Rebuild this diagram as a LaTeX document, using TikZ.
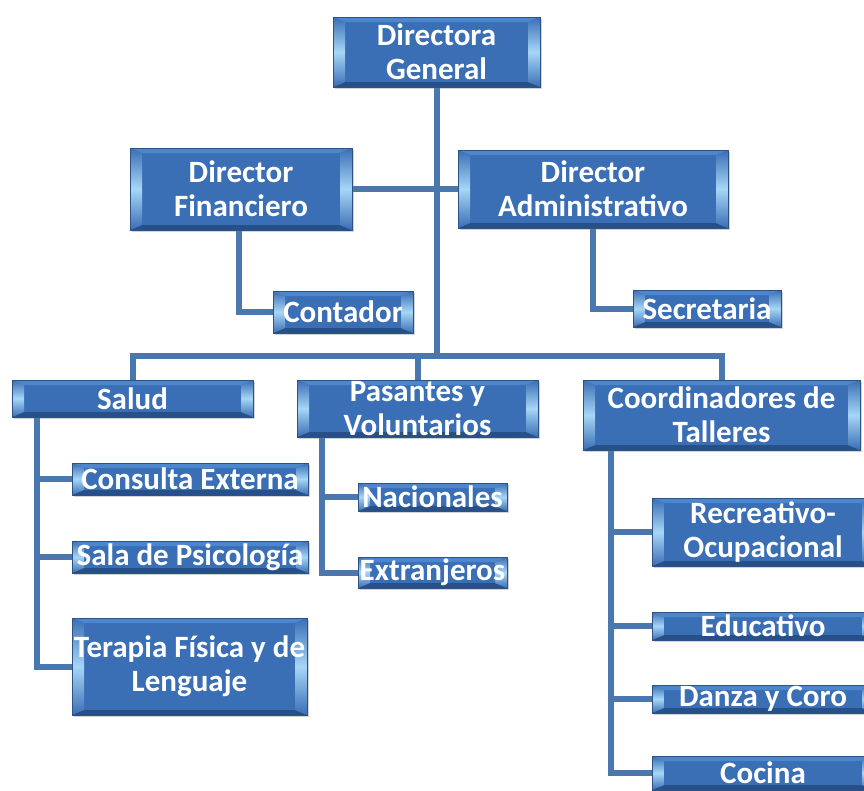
\documentclass[tikz,border=0pt]{standalone}
\usepackage{fontspec}
\setmainfont{Carlito}
\usetikzlibrary{backgrounds,shadows}
\definecolor{boxfill}{HTML}{3A6EB5}
\definecolor{boxedge}{HTML}{2D5283}
\definecolor{facetop}{HTML}{4C86CC}
\definecolor{facebot}{HTML}{285088}
\definecolor{hilite}{HTML}{A6D6F7}
\definecolor{connblue}{HTML}{4A77AE}
\newcommand\boxfont{\fontsize{31}{34}\selectfont\bfseries}
\tikzset{
  orgbox/.style={draw=boxedge, line width=1pt, fill=boxfill, text=white,
    font=\boxfont, align=center, inner sep=0pt,
    drop shadow={opacity=0.35, shadow xshift=1.5pt, shadow yshift=-2pt},
    path picture={
      \path (path picture bounding box.north west) coordinate (bNW)
            (path picture bounding box.north east) coordinate (bNE)
            (path picture bounding box.south west) coordinate (bSW)
            (path picture bounding box.south east) coordinate (bSE);
      \fill[facetop] (bNW) -- (bNE) -- ([xshift=-12pt,yshift=-5pt]bNE)
        -- ([xshift=12pt,yshift=-5pt]bNW) -- cycle;
      \fill[facebot] (bSW) -- (bSE) -- ([xshift=-12pt,yshift=5pt]bSE)
        -- ([xshift=12pt,yshift=5pt]bSW) -- cycle;
      \shade[top color=boxfill, bottom color=boxfill, middle color=hilite]
        (bNW) -- ([xshift=12pt,yshift=-5pt]bNW) -- ([xshift=12pt,yshift=5pt]bSW)
        -- (bSW) -- cycle;
      \shade[top color=boxfill, bottom color=boxfill, middle color=hilite]
        (bNE) -- ([xshift=-12pt,yshift=-5pt]bNE) -- ([xshift=-12pt,yshift=5pt]bSE)
        -- (bSE) -- cycle;
    }},
  conn/.style={draw=connblue, line width=6pt}
}
\begin{document}
\begin{tikzpicture}[x=1pt,y=-1pt]
\useasboundingbox (0,0) rectangle (864,790);
% top level
\node[orgbox, minimum width=207pt, minimum height=70pt] (dg) at (436.5,52) {Directora\\General};
\node[orgbox, minimum width=222pt, minimum height=82pt] (df) at (241,189) {Director\\Financiero};
\node[orgbox, minimum width=270pt, minimum height=78pt] (da) at (593,189) {Director\\Administrativo};
\node[orgbox, minimum width=140pt, minimum height=42pt] (cont) at (343,312) {Contador};
\node[orgbox, minimum width=148pt, minimum height=37pt] (sec) at (707,308.5) {Secretaria};
% second level
\node[orgbox, minimum width=241pt, minimum height=37pt] (sal) at (132.5,398.5) {Salud};
\node[orgbox, minimum width=241pt, minimum height=57pt] (pas) at (417.5,408.5) {Pasantes y\\Voluntarios};
\node[orgbox, minimum width=277pt, minimum height=70pt] (coo) at (721.5,415) {Coordinadores de\\Talleres};
% Salud children
\node[orgbox, minimum width=236pt, minimum height=32pt] (ce) at (190,479) {\makebox[0pt]{Consulta Externa}};
\node[orgbox, minimum width=236pt, minimum height=32pt] (sp) at (190,557) {\makebox[0pt]{Sala de Psicología}};
\node[orgbox, minimum width=235pt, minimum height=97pt] (tf) at (189.5,666.5) {\makebox[0pt]{Terapia Física y de}\\Lenguaje};
% Pasantes children
\node[orgbox, minimum width=149pt, minimum height=28pt] (nac) at (432.5,497) {\makebox[0pt]{Nacionales}};
\node[orgbox, minimum width=149pt, minimum height=31pt] (ext) at (432.5,572.5) {\makebox[0pt]{Extranjeros}};
% Talleres children
\node[orgbox, minimum width=222pt, minimum height=68pt] (rec) at (763,532) {Recreativo-\\Ocupacional};
\node[orgbox, minimum width=222pt, minimum height=28pt] (edu) at (763,626) {Educativo};
\node[orgbox, minimum width=222pt, minimum height=28pt] (dan) at (763,699) {Danza y Coro};
\node[orgbox, minimum width=222pt, minimum height=34pt] (coc) at (763,773) {Cocina};
% junctions
\coordinate (jt) at (436.5,356);
\coordinate (sv) at ([xshift=25pt]sal.south west);
\coordinate (pv) at ([xshift=25pt]pas.south west);
\coordinate (cv) at ([xshift=28pt]coo.south west);
\begin{scope}[on background layer]
\draw[conn] (dg.south) -- (jt);
\draw[conn] (df.east) -- (da.west);
\draw[conn] (sal.north) |- (jt) -| (coo.north);
\draw[conn] (pas.north) -- (pas.north |- jt);
\draw[conn] ([xshift=-2pt]df.south) |- (cont.west);
\draw[conn] (da.south) |- (sec.west);
\draw[conn] (sv) |- (ce.west);
\draw[conn] (sv) |- (sp.west);
\draw[conn] (sv) |- (tf.west);
\draw[conn] (pv) |- (nac.west);
\draw[conn] (pv) |- (ext.west);
\draw[conn] (cv) |- (rec.west);
\draw[conn] (cv) |- (edu.west);
\draw[conn] (cv) |- (dan.west);
\draw[conn] (cv) |- (coc.west);
\end{scope}
\end{tikzpicture}
\end{document}
